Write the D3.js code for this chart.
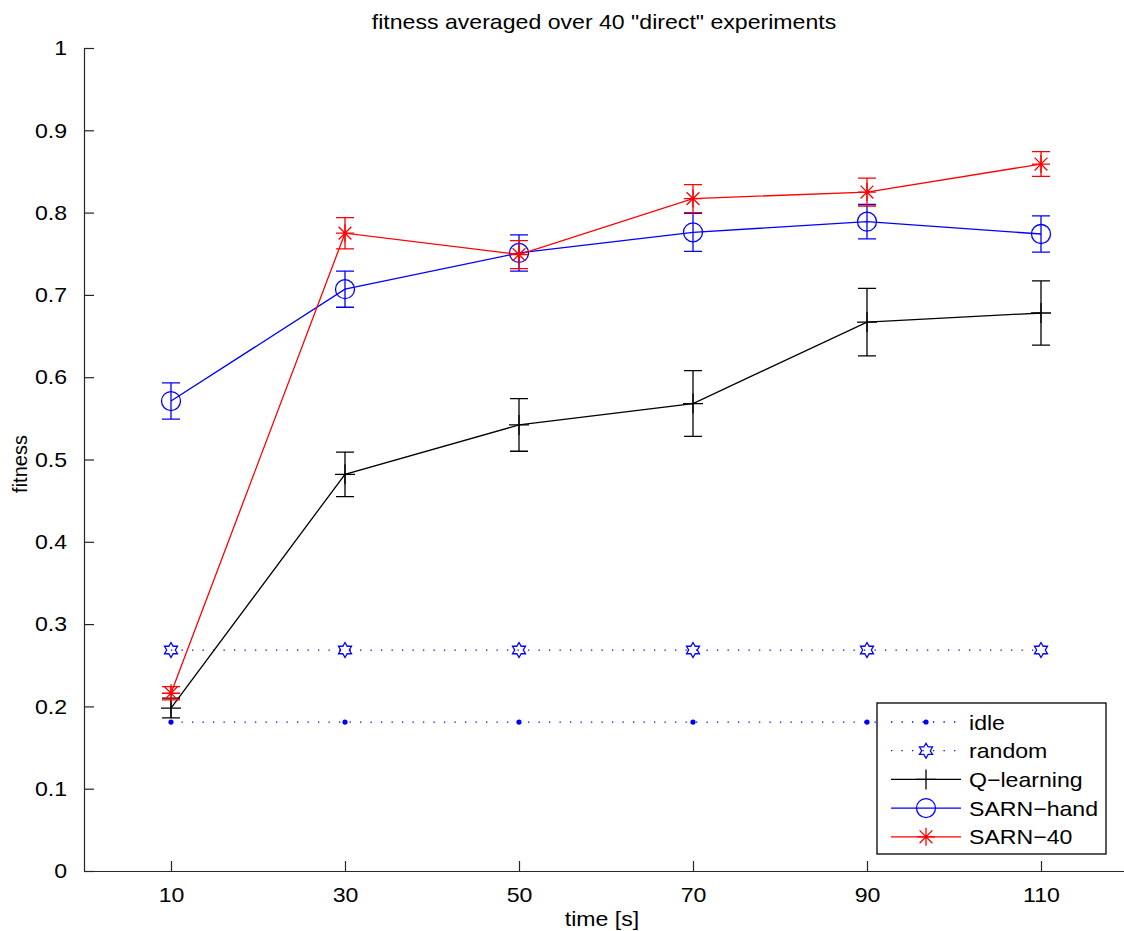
<!DOCTYPE html>
<html>
<head>
<meta charset="UTF-8">
<title>fitness averaged over 40 "direct" experiments</title>
<script src="https://d3js.org/d3.v7.min.js"></script>
<style>
  body { margin: 0; background: #fff; }
  svg text { font-family: "Liberation Sans", Arial, sans-serif; fill: #000; }
</style>
</head>
<body>
<svg id="chart" width="1124" height="931"></svg>
<script>
// data
const times = [10, 30, 50, 70, 90, 110];
const yTicks = [0, 0.1, 0.2, 0.3, 0.4, 0.5, 0.6, 0.7, 0.8, 0.9, 1];

const idle = [0.181, 0.181, 0.181, 0.181, 0.181, 0.181];
const random = [0.2685, 0.2685, 0.2685, 0.2685, 0.2685, 0.2685];
const qMean = [0.198, 0.482, 0.542, 0.568, 0.667, 0.678];
const qErr = [0.012, 0.027, 0.032, 0.040, 0.041, 0.039];
const handMean = [0.571, 0.707, 0.751, 0.776, 0.789, 0.774];
const handErr = [0.022, 0.022, 0.022, 0.023, 0.021, 0.022];
const s40Mean = [0.216, 0.775, 0.749, 0.817, 0.825, 0.859];
const s40Err = [0.008, 0.019, 0.017, 0.017, 0.017, 0.015];

const legendNames = ["idle", "random", "Q\u2212learning", "SARN\u2212hand", "SARN\u221240"];

const series = [
  {name: legendNames[0], vals: idle, color: "#0000ff", dotted: true, marker: "dot"},
  {name: legendNames[1], vals: random, color: "#0000ff", dotted: true, marker: "hex"},
  {name: legendNames[2], vals: qMean, err: qErr, color: "#000000", marker: "plus"},
  {name: legendNames[3], vals: handMean, err: handErr, color: "#0000ff", marker: "circle"},
  {name: legendNames[4], vals: s40Mean, err: s40Err, color: "#ff0000", marker: "star"}
];

const svg = d3.select("#chart");
const plotL = 84, plotR = 1128, plotT = 48, plotB = 871;
const fs = "21px";

const x = d3.scaleLinear().domain([0, 120]).range([plotL, plotR]);
const y = d3.scaleLinear().domain([0, 1]).range([plotB, plotT]);

// title + axis labels
svg.append("text").attr("class", "wide").attr("x", 604).attr("y", 29).attr("text-anchor", "middle")
  .style("font-size", fs).text('fitness averaged over 40 "direct" experiments');
svg.append("text").attr("class", "wide").attr("x", 602).attr("y", 926).attr("text-anchor", "middle")
  .style("font-size", fs).text("time [s]");
svg.append("text").attr("transform", "translate(27,464) rotate(-90)").attr("text-anchor", "middle")
  .style("font-size", "20px").text("fitness");

// axes (ticks inward like matlab)
const xAxis = svg.append("g").attr("transform", `translate(0,${plotB})`)
  .call(d3.axisBottom(x).tickValues(times).tickSize(-10).tickPadding(20).tickSizeOuter(0));
const yAxis = svg.append("g").attr("transform", `translate(${plotL},0)`)
  .call(d3.axisLeft(y).tickValues(yTicks).tickSize(-10).tickPadding(17)
    .tickFormat(d3.format("~g")).tickSizeOuter(0));
[xAxis, yAxis].forEach(g => {
  g.select(".domain").attr("stroke", "#262626").attr("stroke-width", 1.2);
  g.selectAll(".tick line").attr("stroke", "#262626").attr("stroke-width", 1.2);
  g.selectAll(".tick text").attr("class", "wide").style("font-size", fs).attr("fill", "#000");
});
xAxis.selectAll(".tick text").attr("dy", "0.5em");

// marker drawing
function hexPath(r) {
  const pts = [];
  for (let i = 0; i < 12; i++) {
    const a = -Math.PI / 2 + i * Math.PI / 6;
    const rr = i % 2 === 0 ? r : r / Math.sqrt(3);
    pts.push([rr * Math.cos(a), rr * Math.sin(a)]);
  }
  return "M" + pts.map(p => p.join(",")).join("L") + "Z";
}
function drawMarker(g, type, cx, cy, color) {
  const m = g.append("g").attr("transform", `translate(${cx},${cy})`)
    .attr("stroke", color).attr("fill", "none").attr("stroke-width", 1.3);
  if (type === "dot") {
    m.append("circle").attr("r", 2.6).attr("fill", color).attr("stroke", "none");
  } else if (type === "hex") {
    m.append("path").attr("d", hexPath(7.5));
  } else if (type === "plus") {
    m.append("path").attr("d", "M-10,0H10M0,-10V10");
  } else if (type === "circle") {
    m.append("circle").attr("r", 9.5);
  } else if (type === "star") {
    const r = 9, d = 6.4;
    m.append("path").attr("d", `M${-r},0H${r}M0,${-r}V${r}M${-d},${-d}L${d},${d}M${-d},${d}L${d},${-d}`);
  }
}

const line = d3.line().x(d => x(d[0])).y(d => y(d[1]));
const capW = 9;

series.forEach(s => {
  const g = svg.append("g");
  const pts = times.map((t, i) => [t, s.vals[i]]);
  g.append("path").datum(pts).attr("d", line).attr("fill", "none")
    .attr("stroke", s.color).attr("stroke-width", 1.3)
    .attr("stroke-dasharray", s.dotted ? "1.3,9.2" : null);
  if (s.err) {
    times.forEach((t, i) => {
      const cx = x(t), y1 = y(s.vals[i] + s.err[i]), y2 = y(s.vals[i] - s.err[i]);
      g.append("path")
        .attr("d", `M${cx},${y1}V${y2}M${cx - capW},${y1}H${cx + capW}M${cx - capW},${y2}H${cx + capW}`)
        .attr("stroke", s.color).attr("stroke-width", 1.3).attr("fill", "none");
    });
  }
  pts.forEach(p => drawMarker(g, s.marker, x(p[0]), y(p[1]), s.color));
});

// legend
const lg = svg.append("g");
lg.append("rect").attr("x", 877).attr("y", 703).attr("width", 229).attr("height", 151)
  .attr("fill", "#fff").attr("stroke", "#000").attr("stroke-width", 1.3);
series.forEach((s, i) => {
  const ly = 722 + i * 28.7;
  lg.append("line").attr("x1", 891).attr("x2", 961).attr("y1", ly).attr("y2", ly)
    .attr("stroke", s.color).attr("stroke-width", 1.3)
    .attr("stroke-dasharray", s.dotted ? "1.3,9.2" : null);
  drawMarker(lg, s.marker, 926, ly, s.color);
  lg.append("text").attr("class", "wide").attr("x", 969).attr("y", ly).attr("dy", "0.36em")
    .style("font-size", fs).text(s.name);
});

// the reference text is a bit wider than Liberation Sans at the same height
svg.selectAll("text.wide").each(function() {
  const w = this.getComputedTextLength();
  d3.select(this).attr("textLength", w * 1.1).attr("lengthAdjust", "spacingAndGlyphs");
});
</script>
</body>
</html>
